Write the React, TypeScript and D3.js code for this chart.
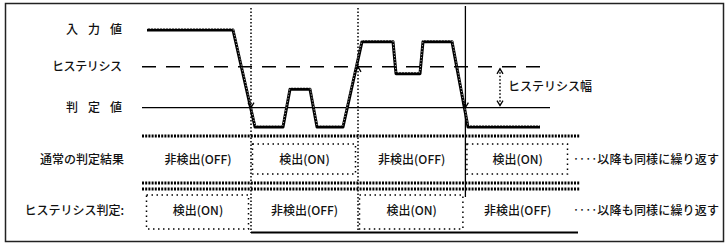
import React from 'react';
import * as d3 from 'd3';

// input signal (time units / level units)
const waveTimes = [0, 21.5, 27, 34, 35.75, 40.75, 42.5, 49, 53.75, 61.5, 62.25, 68.25, 69, 76.25, 80.25, 98.25];
const waveValues = [100, 100, 0, 0, 39, 39, 0, 0, 88, 88, 55, 55, 88, 88, 0, 0];

const levelNames = ['入力値', 'ヒステリシス', '判定値'];
const levelValues = [100, 62, 20];

// moments where the output switches
const eventTimes = [26, 52.75, 79.6];
const cellEdges = [-0.5, 26, 52.75, 79.6, 105.75];

const rowNames = ['通常の判定結果', 'ヒステリシス判定:'];
const row1Cells = ['非検出(OFF)', '検出(ON)', '非検出(OFF)', '検出(ON)'];
const row2Cells = ['検出(ON)', '非検出(OFF)', '検出(ON)', '非検出(OFF)'];
const row1Boxed = [false, true, false, true];
const row2Boxed = [true, false, true, false];
const tailTexts = ['‥‥以降も同様に繰り返す', '‥‥以降も同様に繰り返す'];
const widthLabel = 'ヒステリシス幅';

const W = 727, H = 248;
const FONT = '"Noto Sans CJK JP", sans-serif';

export default function App() {
  const x = d3.scaleLinear().domain([0, 100]).range([147, 547]);
  const y = d3.scaleLinear().domain([0, 100]).range([127, 30]);

  const line = d3.line<number>()
    .x((d, i) => x(waveTimes[i]))
    .y(d => y(d));

  const rowY = [160, 211];
  const boxTop = [144, 195];
  const boxBot = [174, 229];

  const arrow = (cx: number, cy: number, dir: number) =>
    `M${cx - 3},${cy - 5 * dir} L${cx},${cy} L${cx + 3},${cy - 5 * dir}`;

  return (
    <svg width={W} height={H} style={{ position: 'absolute', left: 0, top: 0, background: '#fff' }}>
      <rect x={5.5} y={3.5} width={718} height={238} fill="none" stroke="#222" strokeWidth={1.5} />

      {/* reference levels: dashed hysteresis, solid threshold */}
      <line x1={x(-1.25)} x2={x(100.25)} y1={y(levelValues[1])} y2={y(levelValues[1])}
        stroke="#000" strokeWidth={1.5} strokeDasharray="14,10" />
      <line x1={x(-1.25)} x2={x(100.75)} y1={y(levelValues[2])} y2={y(levelValues[2])}
        stroke="#000" strokeWidth={1.2} />

      {levelNames.map((n, i) => (
        <text key={n} x={122} y={y(levelValues[i])} dy="0.35em" textAnchor="end"
          fontFamily={FONT} fontSize={12} fontWeight={500} fill="#111"
          textLength={n.length === 3 ? 56 : 70} lengthAdjust="spacing">{n}</text>
      ))}

      {/* switching moments */}
      {eventTimes.map((t, i) => (
        <line key={i} x1={x(t)} x2={x(t)} y1={i === 2 ? 6 : 8} y2={i === 2 ? 197 : 233}
          stroke="#000" strokeWidth={i === 2 ? 1.3 : 1.5} strokeDasharray={i === 2 ? undefined : '1.5,2'} />
      ))}

      {/* input waveform */}
      <path d={line(waveValues) || ''} fill="none" stroke="#000" strokeWidth={3} strokeLinejoin="round" />
      <path d={line(waveValues) || ''} fill="none" stroke="#fff" strokeWidth={0.8}
        strokeDasharray="1,2" transform="translate(0,-1.6)" />

      {/* crossing markers */}
      <path d={arrow(x(eventTimes[0]), y(levelValues[2]), 1)} fill="none" stroke="#000" strokeWidth={1.3} />
      <path d={arrow(x(eventTimes[1]), y(levelValues[1]), -1)} fill="none" stroke="#000" strokeWidth={1.3} />
      <path d={arrow(x(eventTimes[2]), y(levelValues[2]), 1)} fill="none" stroke="#000" strokeWidth={1.3} />

      {/* hysteresis width */}
      <line x1={x(88.25)} x2={x(88.25)} y1={y(levelValues[1]) + 2} y2={y(levelValues[2]) - 2}
        stroke="#000" strokeWidth={1.5} strokeDasharray="1.5,2" />
      <path d={arrow(x(88.25), y(levelValues[1]) + 2, -1)} fill="none" stroke="#000" strokeWidth={1.3} />
      <path d={arrow(x(88.25), y(levelValues[2]) - 2, 1)} fill="none" stroke="#000" strokeWidth={1.3} />
      <text x={x(90.25)} y={(y(levelValues[1]) + y(levelValues[2])) / 2} dy="0.35em"
        fontFamily={FONT} fontSize={12} fontWeight={500} fill="#111">{widthLabel}</text>

      {/* row separators */}
      {[136, 183, 189].map(yy => (
        <line key={yy} x1={x(-1.25)} x2={x(108.25)} y1={yy} y2={yy}
          stroke="#000" strokeWidth={3} strokeDasharray="2,1.2" />
      ))}
      <line x1={x(eventTimes[0])} x2={x(107.75)} y1={232.5} y2={232.5} stroke="#000" strokeWidth={2} />

      {rowNames.map((n, r) => (
        <text key={n} x={124} y={rowY[r]} dy="0.35em" textAnchor="end"
          fontFamily={FONT} fontSize={12} fontWeight={500} fill="#111">{n}</text>
      ))}

      {[row1Cells, row2Cells].map((cells, r) => cells.map((c, i) => {
        const x0 = x(cellEdges[i]), x1 = x(cellEdges[i + 1]);
        const boxed = (r === 0 ? row1Boxed : row2Boxed)[i];
        return (
          <g key={`${r}-${i}`}>
            {boxed && (
              <rect x={x0 + 1.5} y={boxTop[r]} width={x1 - x0 - 4} height={boxBot[r] - boxTop[r]}
                fill="none" stroke="#000" strokeWidth={1.5} strokeDasharray="1.5,3.5" />
            )}
            <text x={(x0 + x1) / 2} y={rowY[r]} dy="0.35em" textAnchor="middle"
              fontFamily={FONT} fontSize={12} fontWeight={500} fill="#111">{c}</text>
          </g>
        );
      }))}

      {tailTexts.map((t, r) => (
        <text key={r} x={x(cellEdges[4]) + 3} y={rowY[r]} dy="0.35em"
          fontFamily={FONT} fontSize={12} fontWeight={500} fill="#111"
          textLength={146} lengthAdjust="spacing">{t}</text>
      ))}
    </svg>
  );
}
